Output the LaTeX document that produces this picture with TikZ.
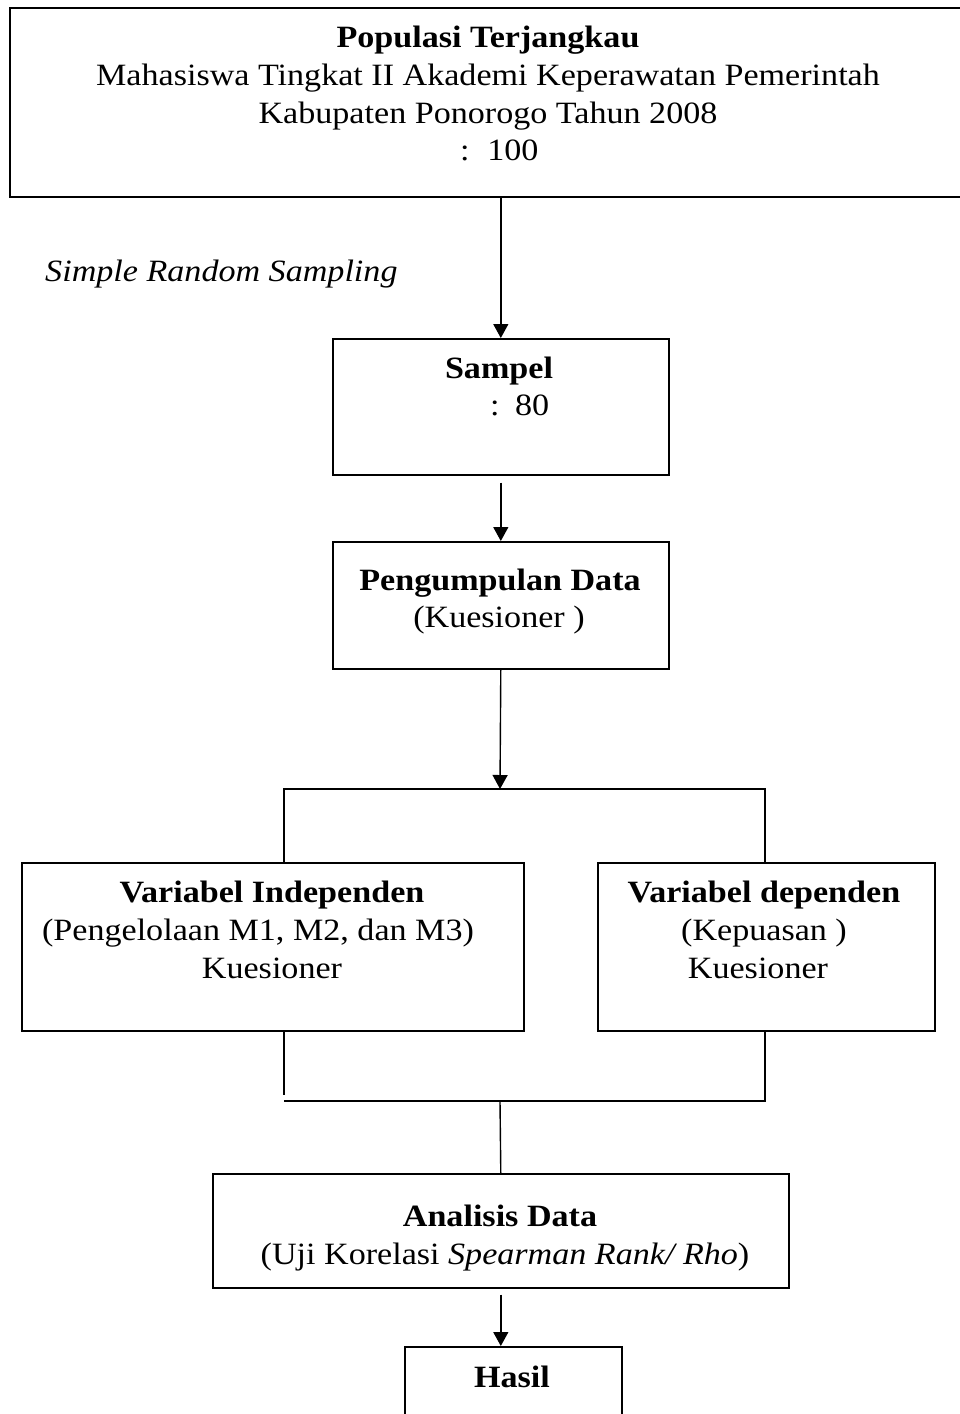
\documentclass[tikz,border=0pt]{standalone}
\usepackage{fontspec}
\setmainfont{Liberation Serif}
\usetikzlibrary{arrows.meta}
\begin{document}
\begin{tikzpicture}[x=1pt,y=-1pt,
  box/.style={draw, line width=1.6pt, inner sep=0pt, anchor=north west},
  arr/.style={line width=1.4pt, -{Triangle[width=15pt,length=14pt]}},
  ln/.style={line width=1.4pt},
  txt/.style={font=\fontsize{31}{38}\selectfont, anchor=base, inner sep=0pt, xscale=1.1},
  txtw/.style={font=\fontsize{31}{38}\selectfont, anchor=base west, inner sep=0pt, xscale=1.1},
]
\useasboundingbox (0,0) rectangle (960,1414);
\clip (0,0) rectangle (960,1414);

% boxes
\node[box, minimum width=956pt, minimum height=189pt] (pop) at (9,7) {};
\node[box, minimum width=336pt, minimum height=136pt] (smp) at (332,338) {};
\node[box, minimum width=336pt, minimum height=127pt] (pd) at (332,541) {};
\node[box, minimum width=502pt, minimum height=168pt] (vi) at (21,862) {};
\node[box, minimum width=337pt, minimum height=168pt] (vd) at (597,862) {};
\node[box, minimum width=576pt, minimum height=114pt] (an) at (212,1173) {};
\node[box, minimum width=217pt, minimum height=100pt] (hs) at (404,1346) {};

% texts
\node[txt] (t1) at (488,47) {\textbf{Populasi Terjangkau}};
\node[txt] (t2) at (488,85) {Mahasiswa Tingkat II Akademi Keperawatan Pemerintah};
\node[txt] (t3) at (488,123) {Kabupaten Ponorogo Tahun 2008};
\node[txtw] (t4) at (460,160) {:\hspace{16pt}100};

\node[txtw] (srs) at (45,281) {\textit{Simple Random Sampling}};

\node[txt] (s1) at (499,378) {\textbf{Sampel}};
\node[txtw] (s2) at (490,415) {:\hspace{14pt}80};

\node[txt] (p1) at (500,590) {\textbf{Pengumpulan Data}};
\node[txt] (p2) at (499,627) {(Kuesioner )};

\node[txt] (i1) at (272,902) {\textbf{Variabel Independen}};
\node[txt] (i2) at (258,940) {(Pengelolaan M1, M2, dan M3)};
\node[txt] (i3) at (272,978) {Kuesioner};

\node[txt] (d1) at (764,902) {\textbf{Variabel dependen}};
\node[txt] (d2) at (764,940) {(Kepuasan )};
\node[txt] (d3) at (758,978) {Kuesioner};

\node[txt] (a1) at (500,1226) {\textbf{Analisis Data}};
\node[txt] (a2) at (505,1264) {(Uji Korelasi \textit{Spearman Rank/ Rho})};

\node[txt] (h1) at (512,1387) {\textbf{Hasil}};

% connectors
\coordinate (bt) at (500,789);
\coordinate (bl) at (284,789);
\coordinate (br) at (765,789);
\coordinate (jl) at (284,1101);
\coordinate (jlend) at (284,1095);
\coordinate (jr) at (765,1101);
\coordinate (jm) at (500,1101);

\draw[arr] (pop.south -| smp.north) -- (smp.north);
\draw[arr] ([yshift=-7pt]smp.south) -- (pd.north);
\draw[arr] (pd.south) -- (bt);
\draw[ln] (vi.north -| bl) -- (bl) -- (br) -- (vd.north -| br);
\draw[ln] (vi.south -| jl) -- (jlend);
\draw[ln] (vd.south -| jr) -- (jr) -- (jl);
\draw[ln] (jm) -- (an.north);
\draw[arr] ([yshift=-6pt]an.south) -- (hs.north -| an.south);
\end{tikzpicture}
\end{document}
